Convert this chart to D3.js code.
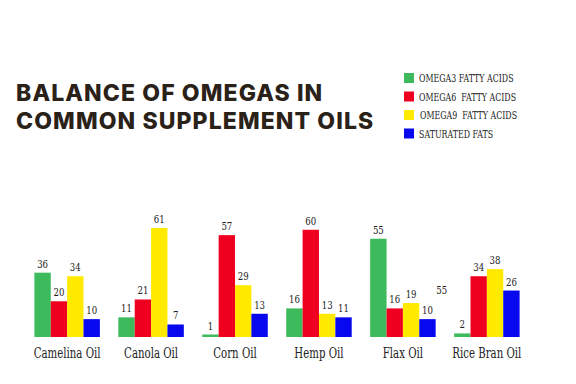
<!DOCTYPE html>
<html>
<head>
<meta charset="utf-8">
<script src="https://cdn.jsdelivr.net/npm/d3@7"></script>
<style>
  html, body { margin: 0; padding: 0; background: #fff; }
  svg { display: block; }
</style>
</head>
<body>
<div id="chart"></div>
<script>
// Data
const oils = ['Camelina Oil', 'Canola Oil', 'Corn Oil', 'Hemp Oil', 'Flax Oil', 'Rice Bran Oil'];
const series = ['OMEGA3 FATTY ACIDS', 'OMEGA6  FATTY ACIDS', 'OMEGA9  FATTY ACIDS', 'SATURATED FATS'];
const omega3 = [36, 11, 1, 16, 55, 2];
const omega6 = [20, 21, 57, 60, 16, 34];
const omega9 = [34, 61, 29, 13, 19, 38];
const saturated = [10, 7, 13, 11, 10, 26];
const colors = ['#3cba5c', '#f00020', '#ffea00', '#0808ee'];

const values = [omega3, omega6, omega9, saturated];
const width = 576, height = 384;
const serif = '"DejaVu Serif", "Liberation Serif", serif';

const svg = d3.select('#chart').append('svg')
  .attr('width', width)
  .attr('height', height);

// helper: condensed text placed at x,y (squeezed horizontally for the narrow slab serif look)
function label(parent, x, y, txt, size, anchor, squeeze) {
  return parent.append('text')
    .attr('transform', `translate(${x},${y}) scale(${squeeze || 0.78},1)`)
    .attr('text-anchor', anchor || 'start')
    .attr('fill', '#222')
    .attr('font-family', serif)
    .attr('font-size', size + 'px')
    .style('white-space', 'pre')
    .text(txt);
}

// Title
const title = svg.append('text')
  .attr('fill', '#2a2118')
  .attr('font-family', 'Inter, "Open Sans", sans-serif')
  .attr('font-weight', 800)
  .attr('font-size', '23px')
  .attr('letter-spacing', '1.1px');
title.append('tspan').attr('x', 16).attr('y', 101).text('BALANCE OF OMEGAS IN');
title.append('tspan').attr('x', 16).attr('y', 129).text('COMMON SUPPLEMENT OILS');

// Legend
const legend = svg.append('g').attr('transform', 'translate(404, 73)');
series.forEach((s, i) => {
  const g = legend.append('g').attr('transform', `translate(0, ${i * 18.5})`);
  g.append('rect').attr('width', 10).attr('height', 10).attr('fill', colors[i]);
  label(g, i === 2 ? 16 : 15, 9, s, 10.5, 'start', 0.75);
});

// Scales
const baseline = 337;
const x0 = d3.scaleBand().domain(oils).range([26, 528]).paddingInner(0.22).paddingOuter(0.1);
const x1 = d3.scaleBand().domain(d3.range(series.length)).range([0, x0.bandwidth()]);
const y = d3.scaleLinear().domain([0, 61]).range([baseline, 228]);

const groups = svg.selectAll('.group')
  .data(oils)
  .enter().append('g')
  .attr('class', 'group')
  .attr('transform', d => `translate(${x0(d)}, 0)`);

groups.each(function(oil, oi) {
  const g = d3.select(this);
  series.forEach((s, si) => {
    const v = values[si][oi];
    const h = Math.max(baseline - y(v), 2.5);
    g.append('rect')
      .attr('x', x1(si))
      .attr('y', baseline - h)
      .attr('width', x1.bandwidth())
      .attr('height', h)
      .attr('fill', colors[si]);
    label(g, x1(si) + x1.bandwidth() / 2, baseline - h - 5, v, 11, 'middle');
  });
  label(g, x0.bandwidth() / 2, 358, oil, 15, 'middle', 0.68);
});

// stray label next to Flax Oil in the original
label(svg, x0('Flax Oil') + x0.bandwidth() + 6, 294, omega3[4], 11, 'middle');
</script>
</body>
</html>
